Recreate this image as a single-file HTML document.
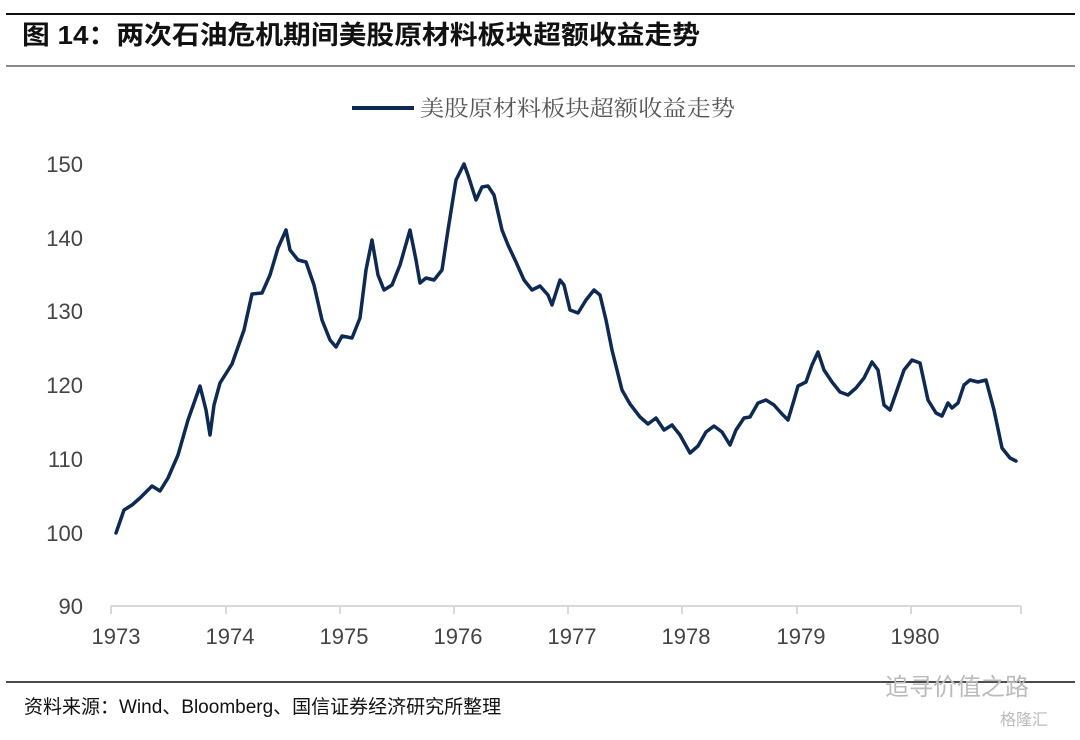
<!DOCTYPE html>
<html><head><meta charset="utf-8"><style>
body{margin:0;background:#fff;width:1080px;height:735px;overflow:hidden;font-family:"Liberation Sans","Noto Sans CJK SC",sans-serif}
</style></head><body>
<svg width="1080" height="735" viewBox="0 0 1080 735" xmlns="http://www.w3.org/2000/svg" font-family="Liberation Sans, Noto Sans CJK SC, sans-serif">
<line x1="6" y1="14" x2="1075" y2="14" stroke="#111" stroke-width="2"/>
<text x="22" y="44" font-size="26" font-weight="bold" fill="#111" textLength="678" lengthAdjust="spacingAndGlyphs">图 14：两次石油危机期间美股原材料板块超额收益走势</text>
<line x1="6" y1="66" x2="1075" y2="66" stroke="#666" stroke-width="1.5"/>
<line x1="352" y1="108" x2="414" y2="108" stroke="#0e2a52" stroke-width="4"/>
<text x="420" y="116" font-size="22" fill="#555" textLength="315" lengthAdjust="spacingAndGlyphs" font-family="Noto Serif CJK SC, serif">美股原材料板块超额收益走势</text>
<g font-size="22" fill="#444" text-anchor="end">
<text x="83" y="172">150</text><text x="83" y="246">140</text><text x="83" y="319">130</text>
<text x="83" y="393">120</text><text x="83" y="467">110</text><text x="83" y="541">100</text><text x="83" y="614">90</text>
</g>
<g stroke="#d9d9d9" stroke-width="2">
<line x1="111" y1="606" x2="1021" y2="606"/>
<line x1="111" y1="606" x2="111" y2="614"/><line x1="226" y1="606" x2="226" y2="614"/>
<line x1="340" y1="606" x2="340" y2="614"/><line x1="454" y1="606" x2="454" y2="614"/>
<line x1="568" y1="606" x2="568" y2="614"/><line x1="682" y1="606" x2="682" y2="614"/>
<line x1="797" y1="606" x2="797" y2="614"/><line x1="911" y1="606" x2="911" y2="614"/>
<line x1="1021" y1="606" x2="1021" y2="614"/>
</g>
<g font-size="22" fill="#444" text-anchor="middle">
<text x="116" y="644">1973</text><text x="230" y="644">1974</text><text x="344" y="644">1975</text>
<text x="458" y="644">1976</text><text x="572" y="644">1977</text><text x="686" y="644">1978</text>
<text x="801" y="644">1979</text><text x="915" y="644">1980</text>
</g>
<polyline fill="none" stroke="#0e2a52" stroke-width="3.5" stroke-linejoin="round" stroke-linecap="round" points="116,533 124,510 132,505 140,498 152,486 160,491 168,478 178,455 188,420 200,386 206,410 210,435 214,405 220,383 232,364 244,330 252,294 262,293 270,275 278,248 286,230 290,250 298,260 306,262 314,285 322,320 330,340 336,347 342,336 352,338 360,318 366,270 372,240 378,275 384,290 392,285 400,265 410,230 416,260 420,283 426,278 434,280 442,270 448,230 456,180 464,164 468,175 476,200 482,187 488,186 494,195 502,230 508,245 516,262 524,280 532,290 540,286 548,295 552,305 560,280 564,285 570,310 578,313 586,300 594,290 600,295 606,320 612,350 622,390 630,404 640,417 648,424 656,418 664,430 672,425 680,435 690,453 698,446 706,432 714,426 722,432 730,445 736,430 744,418 750,417 758,403 766,400 774,405 782,414 788,420 794,400 798,386 806,382 812,365 818,352 824,370 832,382 840,392 848,395 856,388 864,378 872,362 878,370 884,405 890,410 896,393 904,370 912,360 920,363 928,400 936,413 942,416 948,403 952,408 958,403 964,385 970,380 978,382 986,380 994,410 1002,448 1010,458 1016,461"/>
<line x1="6" y1="682" x2="1075" y2="682" stroke="#111" stroke-width="1.5"/>
<text x="24" y="713" font-size="19" fill="#111">资料来源：Wind、Bloomberg、国信证券经济研究所整理</text>
<text x="885" y="695" font-size="24" fill="#bbb">追寻价值之路</text>
<text x="1000" y="725" font-size="16" fill="#bbb">格隆汇</text>
</svg>
</body></html>
